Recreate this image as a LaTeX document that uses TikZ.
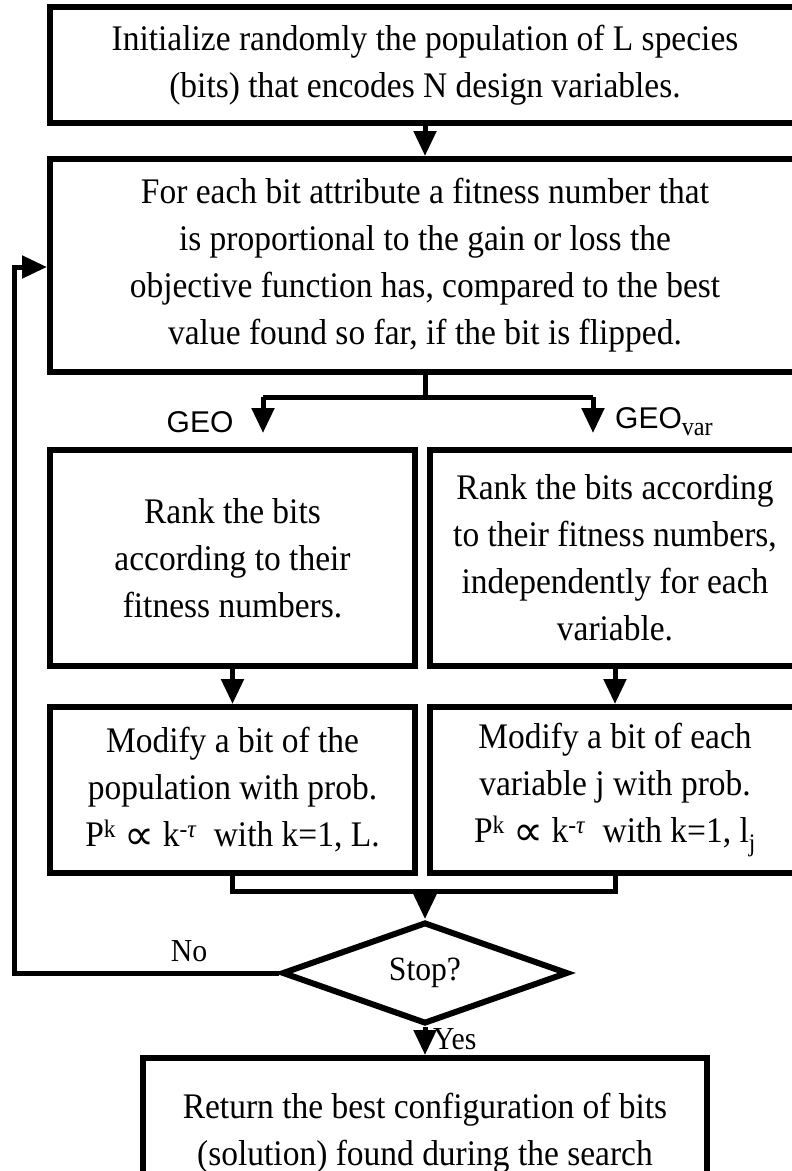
\documentclass[tikz,border=0pt]{standalone}
\usepackage{fontspec}
\setmainfont[FakeStretch=0.93]{Liberation Serif}
\newfontfamily\geofont{Liberation Sans}
\newfontfamily\symfont{DejaVu Sans}
\newcommand{\pk}{P\textsuperscript{k} \raisebox{-3pt}{\symfont\fontsize{42}{47}\selectfont ∝} k\textsuperscript{-\textit{τ}}}
\usetikzlibrary{arrows.meta,shapes.geometric}
\begin{document}
\begin{tikzpicture}[x=1pt,y=-1pt,
  box/.style={draw, line width=6pt, rectangle, align=center, inner sep=0pt, font=\fontsize{36}{47}\selectfont},
  dia/.style={draw, line width=6pt, diamond, inner sep=0pt, font=\fontsize{34}{40}\selectfont},
  arr/.style={line width=5pt, -{Triangle[width=22pt,length=25pt]}},
  ln/.style={line width=5pt},
  lab/.style={font=\fontsize{32}{36}\selectfont, inner sep=0pt},
  geo/.style={font=\geofont\fontsize{30}{34}\selectfont, inner sep=0pt}
]
\useasboundingbox (0,0) rectangle (792,1171);
\clip (0,0) rectangle (792,1171);

\node[box, minimum width=750pt, minimum height=116pt] (init) at (425,65)
  {Initialize randomly the population of L species\\(bits) that encodes N design variables.};
\node[box, minimum width=750pt, minimum height=213pt] (fit) at (425,265.5)
  {For each bit attribute a fitness number that\\is proportional to the gain or loss the\\objective function has, compared to the best\\value found so far, if the bit is flipped.};
\node[box, minimum width=365pt, minimum height=216pt] (rankL) at (232.5,558)
  {Rank the bits\\according to their\\fitness numbers.};
\node[box, minimum width=370pt, minimum height=216pt] (rankR) at (615,558)
  {Rank the bits according\\to their fitness numbers,\\independently for each\\variable.};
\node[box, minimum width=365pt, minimum height=166pt] (modL) at (232.5,790)
  {Modify a bit of the\\population with prob.\\\pk\ \ with k=1, L.};
\node[box, minimum width=370pt, minimum height=166pt] (modR) at (615,790)
  {Modify a bit of each\\variable j with prob.\\\pk\ \ with k=1, l\textsubscript{j}};
\node[dia, minimum width=286pt, minimum height=97pt] (stop) at (425,973) {Stop?};
\node[box, minimum width=564pt, minimum height=150pt] (ret) at (425,1133)
  {Return the best configuration of bits\\(solution) found during the search};

% init -> fit
\draw[arr] (init.south) -- (fit.north);

% branch
\coordinate (bm) at (425,397);
\coordinate (bl) at (263,397);
\coordinate (brr) at (593,397);
\coordinate (tl) at (263,433);
\coordinate (tr) at (593,433);
\draw[ln] (fit.south) -- (bm);
\draw[ln] (bl) -- (brr);
\draw[arr] (bl) -- (tl);
\draw[arr] (brr) -- (tr);
\node[geo] (geoL) at (200,422) {GEO};
\node[geo, anchor=west] (geoR) at (615,422) {GEO\raisebox{-7pt}{\rmfamily\fontsize{26}{28}\selectfont var}};

% rank -> modify
\draw[arr] (rankL.south) -- (modL.north);
\draw[arr] (rankR.south) -- (modR.north);

% join
\coordinate (jL) at (232.5,891);
\coordinate (jR) at (615,891);
\coordinate (jM) at (425,891);
\draw[ln] (modL.south) -- (jL) -- (jR) -- (modR.south);
\draw[arr] (jM) -- (stop.north);

% No loop
\coordinate (loopB) at (14,973);
\coordinate (loopT) at (14,267);
\draw[ln, -{Triangle[width=22pt,length=25pt]}] (stop.west) -- (loopB) -- (loopT) -- (fit.west |- loopT);
\node[lab] (no) at (189,951) {No};

% Yes
\draw[arr] (stop.south) -- (ret.north);
\node[lab, anchor=west] (yes) at (433,1039) {Yes};
\end{tikzpicture}
\end{document}
